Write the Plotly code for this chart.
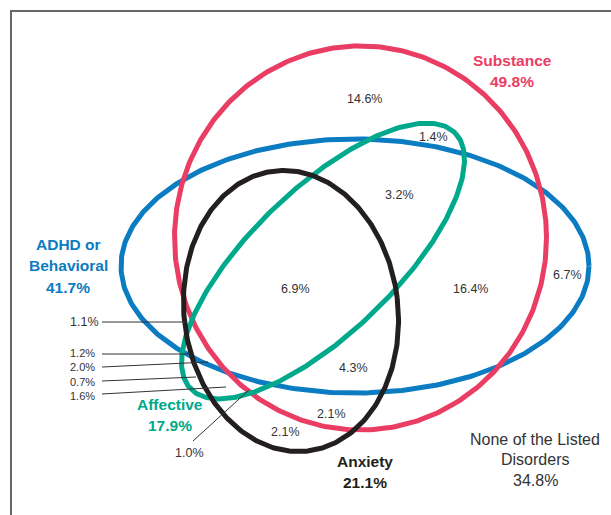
import numpy as np
import plotly.graph_objects as go

# ---------------- data ----------------
set_names = [["Substance"], ["ADHD or", "Behavioral"], ["Affective"], ["Anxiety"]]
set_pcts = [49.8, 41.7, 17.9, 21.1]
set_colors = ["#EA3D64", "#0B7CC1", "#00A98B", "#231F20"]

region_pcts = [14.6, 1.4, 3.2, 6.9, 16.4, 6.7, 4.3, 2.1, 2.1]
callout_single = [1.1, 1.0]
callout_stack = [1.2, 2.0, 0.7, 1.6]
none_label = ["None of the Listed", "Disorders"]
none_pct = 34.8

# ---------------- layout geometry (pixel space) ----------------
# ellipse: (cx, cy, semi-axis a, semi-axis b, rotation deg)
ellipse_geom = [
    (360.5, 238, 186, 192, 0),     # Substance
    (355, 266, 234, 127, 0),       # ADHD
    (323, 261, 184, 72, 44),       # Affective
    (291, 311, 107, 141, 7),       # Anxiety
]
draw_order = [1, 0, 2, 3]
set_label_pos = [(512, 60), (68, 244), (170, 404), (365, 461)]
LINE_GAP = 21.5
region_pos = [(364, 99), (433, 137), (399, 195), (295, 289), (470, 289),
              (567, 275), (353, 368), (331, 414), (285, 432)]
single_pos = [(84, 322), (189, 453)]
stack_pos = (97, 374.5)
callout_lines = [((102, 322), (185, 322)), ((102, 354), (190, 354)),
                 ((102, 367), (208, 362)), ((102, 381), (196, 377)),
                 ((102, 394), (226, 387)), ((193, 441), (249, 390))]
none_pos = (535, 439)

W, H = 611, 515
FONT = "Liberation Sans, Arial, sans-serif"

fig = go.Figure()

t = np.linspace(0, 2 * np.pi, 400)
for i in draw_order:
    cx, cy, a, b, rot = ellipse_geom[i]
    r = np.deg2rad(rot)
    ex = a * np.cos(t)
    ey = b * np.sin(t)
    xs = cx + ex * np.cos(r) + ey * np.sin(r)
    ys = cy - ex * np.sin(r) + ey * np.cos(r)
    fig.add_trace(go.Scatter(x=xs, y=ys, mode="lines",
                             line=dict(color=set_colors[i], width=5),
                             hoverinfo="skip", showlegend=False))

# callout leader lines
for (p0, p1) in callout_lines:
    fig.add_trace(go.Scatter(x=[p0[0], p1[0]], y=[p0[1], p1[1]], mode="lines",
                             line=dict(color="#333333", width=1),
                             hoverinfo="skip", showlegend=False))

# frame
fig.add_trace(go.Scatter(x=[11, 11, W + 5], y=[H + 5, 11, 11], mode="lines",
                         line=dict(color="#666666", width=2),
                         hoverinfo="skip", showlegend=False))

ann = []
for i, lines in enumerate(set_names):
    x, y = set_label_pos[i]
    all_lines = lines + [f"{set_pcts[i]:.1f}%"]
    for k, txt in enumerate(all_lines):
        ann.append(dict(x=x, y=y + k * LINE_GAP, text=f"<b>{txt}</b>",
                        font=dict(family=FONT, size=15.5, color=set_colors[i])))
for v, (x, y) in zip(region_pcts, region_pos):
    ann.append(dict(x=x, y=y, text=f"{v:.1f}%",
                    font=dict(family=FONT, size=12.5, color="#333333")))
for v, (x, y) in zip(callout_single, single_pos):
    ann.append(dict(x=x, y=y, text=f"{v:.1f}%",
                    font=dict(family=FONT, size=12.5, color="#333333")))
ann.append(dict(x=stack_pos[0], y=stack_pos[1], xanchor="right", align="right",
                text="<br>".join(f"{v:.1f}%" for v in callout_stack),
                font=dict(family=FONT, size=11, color="#333333")))
none_lines = none_label + [f"{none_pct:.1f}%"]
for k, txt in enumerate(none_lines):
    ann.append(dict(x=none_pos[0], y=none_pos[1] + k * 20.5, text=txt,
                    font=dict(family=FONT, size=16, color="#333333")))
for a_ in ann:
    a_.setdefault("xanchor", "center")
    a_.update(xref="x", yref="y", showarrow=False, yanchor="middle")

fig.update_layout(
    width=W, height=H, margin=dict(l=0, r=0, t=0, b=0),
    paper_bgcolor="white", plot_bgcolor="white",
    xaxis=dict(range=[0, W], visible=False, fixedrange=True),
    yaxis=dict(range=[H, 0], visible=False, fixedrange=True),
    annotations=ann, showlegend=False,
)

fig.write_html("out.html", config={"displayModeBar": False},
               post_script="document.body.style.margin='0';")
